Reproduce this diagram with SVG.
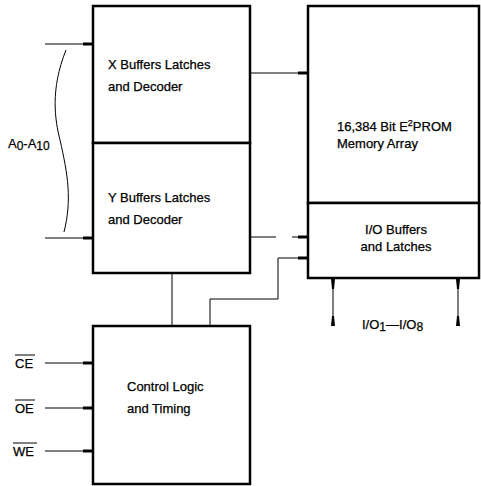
<svg xmlns="http://www.w3.org/2000/svg" width="481" height="486" viewBox="0 0 481 486">
<style>
.box{fill:#fff;stroke:#000;stroke-width:2.5}
.ln{fill:none;stroke:#000;stroke-width:1}
.t{font-family:"Liberation Sans",Arial,sans-serif;font-size:13px;fill:#000;stroke:#000;stroke-width:0.25}
.sub{font-size:12px}
</style>
<defs>
<marker id="ah" viewBox="0 0 10 6" refX="10" refY="3" markerWidth="10" markerHeight="6" markerUnits="userSpaceOnUse" orient="auto"><path d="M0,1.5 L10,1.5 L10,4.5 L0,4.5 Z" fill="#000"/></marker>
<marker id="av" viewBox="0 0 10 6" refX="10" refY="3" markerWidth="10" markerHeight="6" markerUnits="userSpaceOnUse" orient="auto-start-reverse"><path d="M0,2 L10,1 L10,5 L0,4 Z" fill="#000"/></marker>
</defs>
<g id="connectors">
<line class="ln" x1="45" y1="44" x2="93" y2="44" marker-end="url(#ah)"/>
<line class="ln" x1="45" y1="238" x2="93" y2="238" marker-end="url(#ah)"/>
<path class="ln" d="M66,50 C50,90 55,120 60,140 C68,175 72,200 64,232" stroke-width="1.5"/>
<line class="ln" x1="250" y1="73" x2="308" y2="73" marker-end="url(#ah)"/>
<line class="ln" x1="250" y1="237" x2="280" y2="237" stroke-dasharray="26,4,2,10"/>
<line class="ln" x1="292" y1="237" x2="308" y2="237" marker-end="url(#ah)"/>
<path class="ln" d="M210,325 V299 H278 V258 H308" marker-end="url(#ah)"/>
<line class="ln" x1="172" y1="273" x2="172" y2="325"/>
<line class="ln" x1="45" y1="363" x2="93" y2="363" marker-end="url(#ah)"/>
<line class="ln" x1="45" y1="408" x2="93" y2="408" marker-end="url(#ah)"/>
<line class="ln" x1="45" y1="451" x2="93" y2="451" marker-end="url(#ah)"/>
<line class="ln" x1="333" y1="279" x2="333" y2="326" marker-start="url(#av)" marker-end="url(#av)"/>
<line class="ln" x1="458" y1="279" x2="458" y2="326" marker-start="url(#av)" marker-end="url(#av)"/>
</g>
<g id="xbuf">
<rect class="box" x="93" y="6" width="157" height="137"/>
<text class="t" x="108" y="69">X Buffers Latches</text>
<text class="t" x="108" y="91">and Decoder</text>
</g>
<g id="ybuf">
<rect class="box" x="93" y="143" width="157" height="130"/>
<text class="t" x="108" y="202">Y Buffers Latches</text>
<text class="t" x="108" y="224">and Decoder</text>
</g>
<g id="memory">
<rect class="box" x="308" y="6" width="171" height="197"/>
<text class="t" x="337" y="131">16,384 Bit E<tspan font-size="9" dy="-5">2</tspan><tspan dy="5">PROM</tspan></text>
<text class="t" x="337" y="148">Memory Array</text>
</g>
<g id="iobuf">
<rect class="box" x="308" y="203" width="171" height="75"/>
<text class="t" x="396" y="234" text-anchor="middle">I/O Buffers</text>
<text class="t" x="396" y="251" text-anchor="middle">and Latches</text>
</g>
<g id="control">
<rect class="box" x="93" y="326" width="157" height="158"/>
<text class="t" x="127" y="391">Control Logic</text>
<text class="t" x="127" y="413">and Timing</text>
</g>
<g id="labels">
<text class="t" x="8" y="148">A<tspan class="sub" dy="2">0</tspan><tspan dy="-2">-A</tspan><tspan class="sub" dy="2">10</tspan></text>
<text class="t" x="15" y="368">CE</text>
<line class="ln" x1="15" y1="355" x2="35" y2="355"/>
<text class="t" x="15" y="413">OE</text>
<line class="ln" x1="15" y1="400" x2="35" y2="400"/>
<text class="t" x="13" y="456">WE</text>
<line class="ln" x1="13" y1="443" x2="37" y2="443"/>
<text class="t" x="362" y="329">I/O<tspan class="sub" dy="2">1</tspan><tspan dy="-2">—I/O</tspan><tspan class="sub" dy="2">8</tspan></text>
</g>
</svg>
